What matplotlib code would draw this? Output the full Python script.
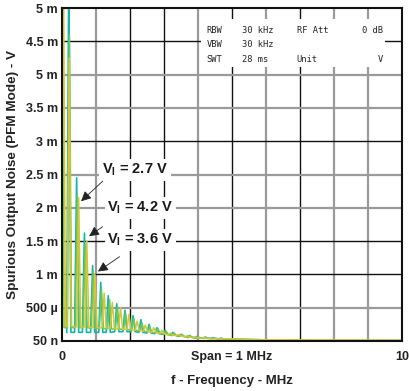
import numpy as np
import matplotlib.pyplot as plt

plt.rcParams['font.family'] = ['Liberation Sans', 'DejaVu Sans']
plt.rcParams['mathtext.fontset'] = 'custom'
plt.rcParams['mathtext.rm'] = 'Liberation Sans'
plt.rcParams['mathtext.bf'] = 'Liberation Sans:bold'
plt.rcParams['mathtext.default'] = 'bf'

# --- data (f in MHz, level in mV) ---
teal_peak_f = [0.20, 0.43, 0.66, 0.90, 1.14, 1.36, 1.61, 1.85, 2.09, 2.32, 2.56, 2.79,
               3.03, 3.26, 3.50, 3.74, 3.97, 4.21, 4.44, 4.68]
teal_peak_v = [5.6, 2.45, 1.62, 1.13, 0.88, 0.68, 0.56, 0.46, 0.38, 0.32, 0.25, 0.20,
               0.16, 0.13, 0.10, 0.08, 0.07, 0.06, 0.05, 0.045]
teal_valley = [0.13, 0.13, 0.13, 0.13, 0.13, 0.13, 0.14, 0.14, 0.14, 0.13, 0.12, 0.11,
               0.10, 0.09, 0.07, 0.06, 0.05, 0.04, 0.04, 0.03]
teal_tail_f = [5.2, 5.8, 6.0, 10.0]
teal_tail_v = [0.025, 0.02, 0.01, 0.005]

yellow_peak_f = [0.04, 0.21, 0.49, 0.73, 0.97, 1.24, 1.48, 1.72, 1.97, 2.21, 2.45, 2.70,
                 2.94, 3.19, 3.43, 3.68, 3.92, 4.17]
yellow_peak_v = [6.0, 4.25, 2.15, 1.50, 1.00, 0.72, 0.58, 0.50, 0.40, 0.30, 0.24, 0.20,
                 0.16, 0.12, 0.10, 0.08, 0.06, 0.05]
yellow_valley = [0.22, 0.22, 0.21, 0.21, 0.20, 0.20, 0.19, 0.18, 0.17, 0.16, 0.15, 0.13,
                 0.11, 0.09, 0.08, 0.06, 0.05, 0.04]
yellow_tail_f = [4.6, 5.2, 5.6, 10.0]
yellow_tail_v = [0.035, 0.03, 0.02, 0.01]

green_peak_f = [0.00, 0.22, 0.45, 0.68, 0.92, 1.16, 1.40, 1.63, 1.87, 2.11, 2.35, 2.58,
                2.82, 3.06, 3.30, 3.53, 3.77, 4.01, 4.25, 4.50]
green_peak_v = [6.0, 4.6, 2.2, 1.45, 1.05, 0.78, 0.62, 0.50, 0.42, 0.34, 0.27, 0.22,
                0.19, 0.15, 0.12, 0.10, 0.08, 0.06, 0.05, 0.04]
green_valley = [0.20, 0.20, 0.20, 0.20, 0.19, 0.19, 0.18, 0.18, 0.17, 0.16, 0.15, 0.13,
                0.12, 0.10, 0.08, 0.07, 0.05, 0.04, 0.04, 0.03]
green_tail_f = [5.0, 5.6, 6.2, 10.0]
green_tail_v = [0.03, 0.02, 0.01, 0.01]

y_ticks = [0, 0.5, 1, 1.5, 2, 2.5, 3, 3.5, 4, 4.5, 5]
y_labels = ['50 n', '500 \u00b5', '1 m', '1.5 m', '2 m', '2.5 m', '3 m', '3.5 m', '5 m', '4.5 m', '5 m']

labels = ['V$_I$ = 2.7 V', 'V$_I$ = 4.2 V', 'V$_I$ = 3.6 V']
label_xy = [(2.15, 2.57), (2.3, 2.0), (2.3, 1.52)]
arrow_tip = [(0.50, 2.07), (0.73, 1.55), (0.99, 1.02)]
arrow_tail = [(1.26, 2.43), (1.26, 1.74), (1.76, 1.29)]

info_rows = [['RBW', '30 kHz', 'RF Att', '0 dB'],
             ['VBW', '30 kHz', '', ''],
             ['SWT', '28 ms', 'Unit', 'V']]

HW = 0.06  # half width of a spike base


def trace(pf, pv, vv, tf, tv):
    f, v = [], []
    for a, b, c in zip(pf, pv, vv):
        f += [a - HW, a, a + HW]
        v += [c, b, c]
    return np.array(f + tf), np.array(v + tv)


fig = plt.figure(figsize=(4.09, 3.91), dpi=100)
ax = fig.add_axes([0.1516, 0.1279, 0.8314, 0.8516])
ax.set_xlim(0, 10)
ax.set_ylim(0, 5)

# grid, drawn by hand to keep the black / grey mix of the scan
v_dark = [2, 3, 5, 7]
h_dark = [1, 1.5, 3, 4.5]
for x in range(1, 10):
    if x in v_dark:
        ax.axvline(x, color='#111111', lw=1.0, zorder=1)
    else:
        ax.axvline(x, color='#9a9a9a', lw=1.6, zorder=1)
for y in y_ticks[1:-1]:
    if y in h_dark:
        ax.axhline(y, color='#111111', lw=1.0, zorder=1)
    else:
        ax.axhline(y, color='#9a9a9a', lw=1.6, zorder=1)

f, v = trace(teal_peak_f, teal_peak_v, teal_valley, teal_tail_f, teal_tail_v)
ax.plot(f, v, color='#12b5ad', lw=1.2, zorder=3)
f, v = trace(green_peak_f, green_peak_v, green_valley, green_tail_f, green_tail_v)
ax.plot(f, v, color='#6cc85a', lw=1.1, zorder=4)
f, v = trace(yellow_peak_f, yellow_peak_v, yellow_valley, yellow_tail_f, yellow_tail_v)
ax.plot(f, v, color='#d6c636', lw=1.1, zorder=5)

# instrument settings box
ax.add_patch(plt.Rectangle((4.09, 4.11), 5.41, 0.72, facecolor='white',
                           edgecolor='none', zorder=2))
col_x = [4.25, 5.3, 6.9, 9.45]
row_y = [4.66, 4.45, 4.22]
for r, row in enumerate(info_rows):
    for c, txt in enumerate(row):
        ax.text(col_x[c], row_y[r], txt, fontsize=6.3, family='DejaVu Sans Mono',
                color='#222222', ha='right' if c == 3 else 'left', va='center', zorder=6)

for lab, xy, tip, tail in zip(labels, label_xy, arrow_tip, arrow_tail):
    ax.text(xy[0], xy[1], lab, fontsize=10.5, fontweight='bold', color='#1a1a1a',
            ha='center', va='center', zorder=7,
            bbox=dict(facecolor='white', edgecolor='none', pad=2))
    ax.annotate('', xy=tip, xytext=tail, zorder=7,
                arrowprops=dict(arrowstyle='-|>', color='#222222', lw=0.6,
                                mutation_scale=15))

ax.set_yticks(y_ticks)
ax.set_yticklabels(y_labels)
ax.set_xticks([0, 5, 10])
ax.set_xticklabels(['0', 'Span = 1 MHz', '10'])
ax.tick_params(length=0, labelsize=9, labelcolor='#222222')
ax.tick_params(axis='x', pad=7)
ax.tick_params(axis='y', pad=3)
for t in ax.get_xticklabels() + ax.get_yticklabels():
    t.set_fontweight('bold')
for s in ax.spines.values():
    s.set_linewidth(1.5)
    s.set_color('#111111')
    s.set_zorder(8)

ax.set_xlabel('f - Frequency - MHz', fontsize=9.5, fontweight='bold', color='#222222', labelpad=9)
ax.set_ylabel('Spurious Output Noise (PFM Mode) - V', fontsize=9.7, fontweight='bold',
              color='#222222', labelpad=5)

fig.savefig('out.png', dpi=100)
